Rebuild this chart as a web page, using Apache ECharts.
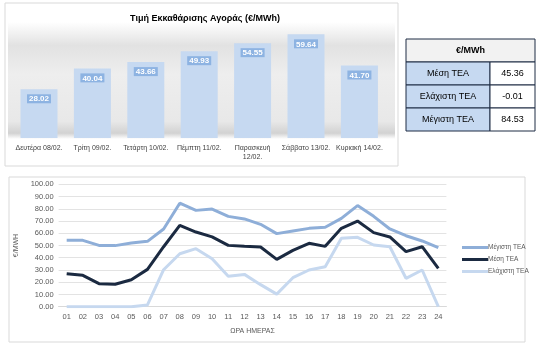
<!DOCTYPE html>
<html><head><meta charset="utf-8">
<script src="https://cdn.jsdelivr.net/npm/echarts@6/dist/echarts.min.js"></script>
<style>html,body{margin:0;padding:0;background:#fff}#c{width:542px;height:350px}</style>
</head><body><div id="c"></div>
<script>
const days = ['Δευτέρα 08/02.', 'Τρίτη 09/02.', 'Τετάρτη 10/02.', 'Πέμπτη 11/02.', 'Παρασκευή\n12/02.', 'Σάββατο 13/02.', 'Κυριακή 14/02.'];
const dayPrices = [28.02, 40.04, 43.66, 49.93, 54.55, 59.64, 41.70];

const hours = ['01','02','03','04','05','06','07','08','09','10','11','12','13','14','15','16','17','18','19','20','21','22','23','24'];
const maxTEA  = [54.2,54.2,50.1,49.9,52.0,53.4,63.5,84.53,78.7,79.8,73.8,71.7,67.3,59.7,61.9,64.0,64.9,72.2,82.6,73.8,63.5,58.0,53.7,48.2];
const meanTEA = [27.0,25.6,18.8,18.3,22.0,30.5,49.0,66.5,61.0,57.0,50.1,49.3,48.8,38.7,46.0,51.8,49.3,64.0,70.0,60.5,57.0,45.0,49.0,31.3];
const minTEA  = [0.0,0.0,0.0,0.0,0.0,1.4,30.2,43.3,47.4,39.2,24.8,26.4,18.0,10.3,23.7,30.0,32.7,55.9,56.7,50.4,49.0,23.2,30.0,-0.01];

const tableHeader = '€/MWh';
const tableLabels = ['Μέση ΤΕΑ', 'Ελάχιστη ΤΕΑ', 'Μέγιστη ΤΕΑ'];
const tableValues = [45.36, -0.01, 84.53];

const FONT = 'Liberation Sans';
const chart = echarts.init(document.getElementById('c'), null, {renderer: 'canvas'});

// table graphics
const tX = 406, tY = 39, tW = 129, hH = 23, rH = 23, splitX = 490;
const tableEls = [];
tableEls.push({type:'rect', shape:{x:tX, y:tY, width:tW, height:hH}, style:{fill:'#f2f2f2', stroke:'#1f2d45', lineWidth:1}});
tableEls.push({type:'text', style:{x:tX+tW/2, y:tY+hH/2, text:tableHeader, fill:'#000', font:'bold 9px '+FONT, textAlign:'center', textVerticalAlign:'middle'}});
tableLabels.forEach((lab, i) => {
  const y = tY + hH + i*rH;
  tableEls.push({type:'rect', shape:{x:tX, y:y, width:splitX-tX, height:rH}, style:{fill:'#c6d9f1', stroke:'#1f2d45', lineWidth:1}});
  tableEls.push({type:'rect', shape:{x:splitX, y:y, width:tX+tW-splitX, height:rH}, style:{fill:'#ffffff', stroke:'#1f2d45', lineWidth:1}});
  tableEls.push({type:'text', style:{x:(tX+splitX)/2, y:y+rH/2, text:lab, fill:'#000', font:'9px '+FONT, textAlign:'center', textVerticalAlign:'middle'}});
  tableEls.push({type:'text', style:{x:(splitX+tX+tW)/2, y:y+rH/2, text:tableValues[i].toFixed(2), fill:'#000', font:'9px '+FONT, textAlign:'center', textVerticalAlign:'middle'}});
});

const option = {
  animation: false,
  backgroundColor: '#ffffff',
  textStyle: {fontFamily: FONT},
  title: {
    text: 'Τιμή Εκκαθάρισης Αγοράς (€/MWh)',
    left: 200, top: 9, textAlign: 'center',
    textStyle: {fontSize: 9, fontWeight: 'bold', color: '#000', fontFamily: FONT}
  },
  graphic: [
    {type:'rect', z:-10, shape:{x:5, y:3, width:393, height:163}, style:{fill:'#fff', stroke:'#d9d9d9', lineWidth:1}},
    {type:'rect', z:-9, shape:{x:8, y:22, width:387, height:117},
      style:{fill: new echarts.graphic.LinearGradient(0,0,0,1,[
        {offset:0, color:'#ffffff'},
        {offset:0.2, color:'#e2e2e2'},
        {offset:0.45, color:'#eeeeee'},
        {offset:0.85, color:'#e8e8e8'},
        {offset:0.95, color:'#d2d2d2'},
        {offset:1, color:'#ffffff'}])}},
    {type:'rect', z:-10, shape:{x:9, y:177, width:516, height:165}, style:{fill:'#fff', stroke:'#d9d9d9', lineWidth:1}}
  ].concat(tableEls),
  legend: {
    orient: 'vertical', left: 457, top: 239, itemWidth: 26, itemHeight: 3, itemGap: 5,
    icon: 'rect',
    textStyle: {fontSize: 6.5, color: '#595959', fontFamily: FONT, padding:[0,0,0,-5]},
    data: ['Μέγιστη ΤΕΑ', 'Μέση ΤΕΑ', 'Ελάχιστη ΤΕΑ']
  },
  grid: [
    {left: 12.3, right: 155.9, top: 25, bottom: 212},
    {left: 58.6, right: 95.6, top: 184.3, bottom: 43.3}
  ],
  xAxis: [
    {type:'category', gridIndex:0, data: days,
      axisLine:{show:false}, axisTick:{show:false},
      axisLabel:{fontSize:7, color:'#404040', margin:6, lineHeight:9, interval:0, fontFamily:FONT}},
    {type:'category', gridIndex:1, data: hours,
      name:'ΩΡΑ ΗΜΕΡΑΣ', nameLocation:'middle', nameGap:21,
      nameTextStyle:{fontSize:7, color:'#595959', fontFamily:FONT},
      axisLine:{show:true, lineStyle:{color:'#d9d9d9'}}, axisTick:{show:false},
      axisLabel:{fontSize:7.5, color:'#595959', margin:6, interval:0, fontFamily:FONT}}
  ],
  yAxis: [
    {type:'value', gridIndex:0, min:0, max:65, show:false, splitLine:{show:false}},
    {type:'value', gridIndex:1, min:0, max:100, interval:10,
      name:'€/MWH', nameLocation:'middle', nameGap:30, nameRotate:90,
      nameTextStyle:{fontSize:7, color:'#595959', fontFamily:FONT},
      axisLine:{show:false}, axisTick:{show:false},
      axisLabel:{fontSize:7.5, color:'#595959', margin:5, formatter: v => v.toFixed(2), fontFamily:FONT},
      splitLine:{lineStyle:{color:'#e3e3e3', width:1}}}
  ],
  series: [
    {type:'bar', xAxisIndex:0, yAxisIndex:0, data: dayPrices, barWidth: 37,
      itemStyle:{color:'#c6d9f1'},
      label:{show:true, position:'insideTop', distance:5, formatter: p => p.value.toFixed(2),
        color:'#fff', fontWeight:'bold', fontSize:8, backgroundColor:'#8db3e2', padding:[1,2,0,2], fontFamily:FONT}},
    {name:'Μέγιστη ΤΕΑ', type:'line', xAxisIndex:1, yAxisIndex:1, data:maxTEA, symbol:'none',
      lineStyle:{color:'#8eaed8', width:3}, itemStyle:{color:'#8eaed8'}},
    {name:'Μέση ΤΕΑ', type:'line', xAxisIndex:1, yAxisIndex:1, data:meanTEA, symbol:'none',
      lineStyle:{color:'#1b2a41', width:3}, itemStyle:{color:'#1b2a41'}},
    {name:'Ελάχιστη ΤΕΑ', type:'line', xAxisIndex:1, yAxisIndex:1, data:minTEA, symbol:'none',
      lineStyle:{color:'#c6d8ef', width:3}, itemStyle:{color:'#c6d8ef'}}
  ]
};
chart.setOption(option);
</script>
</body></html>
